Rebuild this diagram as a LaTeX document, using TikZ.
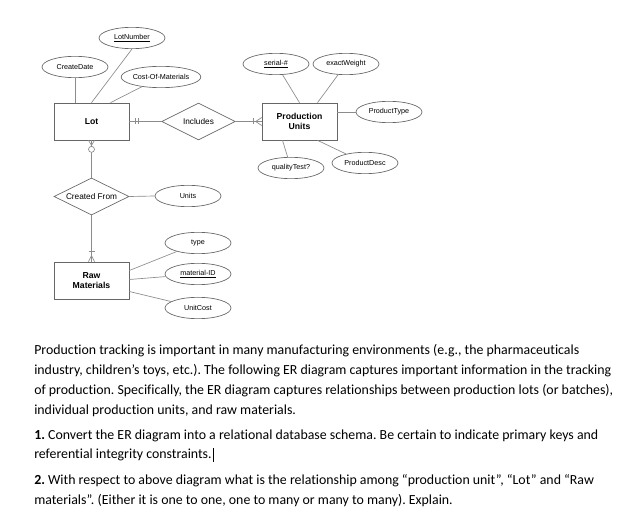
\documentclass[tikz,border=0pt]{standalone}
\usepackage{fontspec}
\setmainfont{Carlito}[Ligatures=NoCommon]
\newfontfamily\arialf{Liberation Sans}
\usetikzlibrary{shapes.geometric,calc}
\frenchspacing
\begin{document}
\begin{tikzpicture}[x=0.75pt,y=-0.75pt,
 attr/.style={ellipse,draw=black!60,line width=0.5pt,minimum width=49.5pt,minimum height=16pt,inner sep=0pt,font=\arialf\fontsize{5.4}{6}\selectfont},
 ent/.style={rectangle,draw=black!60,line width=0.5pt,minimum width=56.25pt,minimum height=27.75pt,inner sep=0pt,align=center,font=\arialf\bfseries\fontsize{6.5}{8}\selectfont},
 rel/.style={diamond,aspect=2,draw=black!60,line width=0.5pt,minimum width=55pt,minimum height=27.75pt,inner sep=0pt,font=\arialf\fontsize{6.2}{7}\selectfont},
 conn/.style={draw=black!45,line width=0.5pt},
 body/.style={anchor=base west,inner sep=0pt,font=\fontsize{10.4}{13}\selectfont}]
\useasboundingbox (0,0) rectangle (644,517);
\fill[white] (0,0) rectangle (644,517);

% entities
\node[ent] (lot) at (91.5,121.5) {Lot};
\node[ent] (pu) at (299.5,121.5) {Production\\Units};
\node[ent] (rm) at (91.5,280.5) {Raw\\Materials};

% relationships
\node[rel] (inc) at (198.5,121.5) {Includes};
\node[rel,minimum width=56.25pt] (cf) at (91.5,196.5) {Created From};

% attributes
\node[attr] (cd) at (75,67) {CreateDate};
\node[attr] (ln) at (132,38) {\underline{LotNumber}};
\node[attr] (cost) at (161,77) {Cost-Of-Materials};
\node[attr] (ser) at (276,64) {\underline{serial-\#}};
\node[attr] (ew) at (346,64) {exactWeight};
\node[attr] (pt) at (389,112) {ProductType};
\node[attr] (qt) at (291,168) {qualityTest?};
\node[attr] (pd) at (365,163) {ProductDesc};
\node[attr] (un) at (188,196) {Units};
\node[attr] (ty) at (198,243) {type};
\node[attr] (mid) at (198,274) {\underline{material-ID}};
\node[attr] (uc) at (198,308) {UnitCost};

% attribute connectors
\draw[conn] (cd.south) -- (cd.south |- lot.north);
\draw[conn] (ln.south) -- (lot.north);
\draw[conn] (cost) -- ($(lot.north)+(19,0)$);
\draw[conn] (ser) -- (pu.north);
\draw[conn] (ew) -- ($(pu.north)+(18,0)$);
\draw[conn] (pu.east |- pt) -- (pt);
\draw[conn] ($(pu.south)+(-17,0)$) -- (qt);
\draw[conn] ($(pu.south)+(18,0)$) -- (pd);
\draw[conn] (cf.east) -- (un.west);
\draw[conn] ($(rm.east)+(0,-10)$) -- (ty);
\draw[conn] ($(rm.east)+(0,-1)$) -- (mid);
\draw[conn] ($(rm.east)+(0,11)$) -- (uc);

% relationship connectors
\draw[conn] (lot.east) -- (inc.west);
\draw[conn] ($(lot.east)+(6,-3)$) -- ++(0,6);
\draw[conn] ($(lot.east)+(9,-3)$) -- ++(0,6);

\draw[conn] (inc.east) -- (pu.west);
\draw[conn] ($(pu.west)+(-8,-3)$) -- ++(0,6);
\draw[conn] ($(pu.west)+(0,-4)$) -- ($(pu.west)+(-6,0)$) -- ($(pu.west)+(0,4)$);

\draw[conn] (lot.south) -- (cf.north);
\draw[conn] ($(lot.south)+(-3,0)$) -- ($(lot.south)+(0,5)$) -- ($(lot.south)+(3,0)$);
\draw[conn,fill=white] ($(lot.south)+(0,9)$) circle[radius=3];

\draw[conn] (cf.south) -- (rm.north);
\draw[conn] ($(rm.north)+(-3,-10)$) -- ++(6,0);
\draw[conn] ($(rm.north)+(-3,0)$) -- ($(rm.north)+(0,-6)$) -- ($(rm.north)+(3,0)$);

% body text
\node[body] (t1) at (34,354) {Production tracking is important in many manufacturing environments (e.g., the pharmaceuticals};
\node[body] (t2) at (34,374) {industry, children’s toys, etc.). The following ER diagram captures important information in the tracking};
\node[body] (t3) at (34,394) {of production. Specifically, the ER diagram captures relationships between production lots (or batches),};
\node[body] (t4) at (34,414) {individual production units, and raw materials.};
\node[body] (t5) at (34,439) {\textbf{1.} Convert the ER diagram into a relational database schema. Be certain to indicate primary keys and};
\node[body] (t6) at (34,459) {referential integrity constraints.};
\node[body] (t7) at (34,484) {\textbf{2.} With respect to above diagram what is the relationship among “production unit”, “Lot” and “Raw};
\node[body] (t8) at (34,504) {materials”. (Either it is one to one, one to many or many to many). Explain.};
\draw[line width=0.5pt] ($(t6.base east)+(1,-11)$) -- ++(0,14);
\end{tikzpicture}
\end{document}
